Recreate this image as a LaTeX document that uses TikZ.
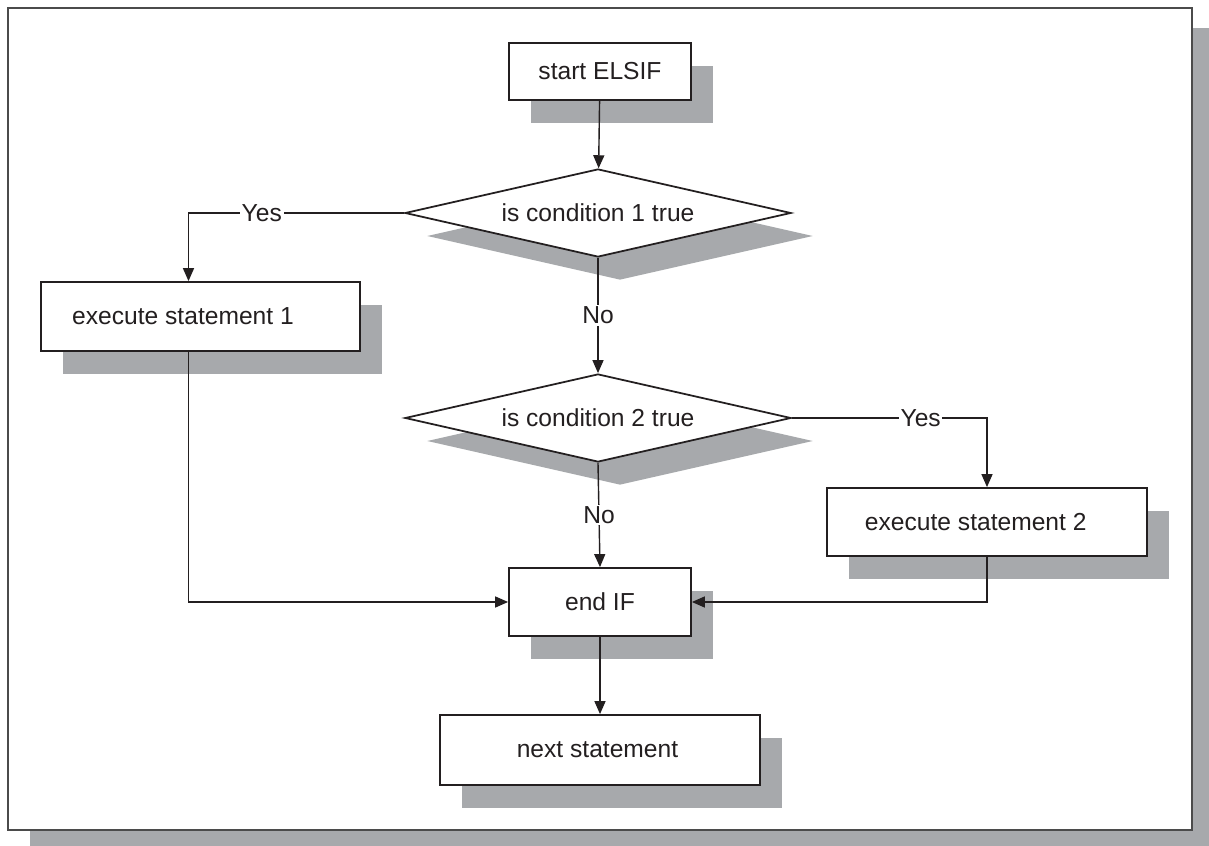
\documentclass[tikz,border=0pt]{standalone}
\usepackage{fontspec}
\setmainfont{Liberation Sans}
\usepackage{tikz}
\usetikzlibrary{shapes.geometric}
\usetikzlibrary{arrows.meta}
\usetikzlibrary{shadows}
\usetikzlibrary{calc}

\definecolor{shadowgray}{RGB}{167,169,172}
\definecolor{framegray}{RGB}{75,75,75}
\definecolor{inkblack}{RGB}{35,31,32}

\tikzset{
	greyshadow/.style = {drop shadow = {shadow xshift = 0.44cm, shadow yshift = -0.46cm, fill = shadowgray, opacity = 1}},
	stepbox/.style = {rectangle, draw = inkblack, line width = 1pt, fill = white, greyshadow},
	decision/.style = {diamond, draw = inkblack, line width = 1pt, fill = white, greyshadow, aspect = 4.4, inner sep = 0pt, minimum width = 7.72cm, minimum height = 1.76cm},
	answer/.style = {fill = white, inner sep = 1pt}
}

\begin{document}
\begin{tikzpicture}[x = 0.2mm, y = -0.2mm, every node/.style = {font = \fontsize{14}{16}\selectfont, text = inkblack}]
		\useasboundingbox (0, 0) rectangle (1209, 846);
		
		\draw [framegray, line width = 1.2pt, fill = white, drop shadow = {shadow xshift = 0.44cm, shadow yshift = -0.40cm, fill = shadowgray, opacity = 1}]
		(8, 8) rectangle (1192, 830);
		
		\node (start) [stepbox, minimum width = 3.64cm, minimum height = 1.14cm] at (600, 71.5) {start ELSIF};
		\node (cond1) [decision] at (598, 213) {is condition 1 true};
		\node (exec1) [stepbox, minimum width = 6.38cm, minimum height = 1.38cm] at (200.5, 316.5) {execute statement 1\kern 0.7cm};
		\node (cond2) [decision] at (598, 418) {is condition 2 true};
		\node (exec2) [stepbox, minimum width = 6.4cm, minimum height = 1.36cm] at (987, 522) {execute statement 2\kern 0.45cm};
		\node (endif) [stepbox, minimum width = 3.64cm, minimum height = 1.36cm] at (600, 602) {end IF};
		\node (next) [stepbox, minimum width = 6.4cm, minimum height = 1.4cm] at (600, 750) {next statement\kern 0.1cm};
		
		\begin{scope}[>={Triangle[length = 2.6mm, width = 2.2mm]}, every path/.style = {draw = inkblack, line width = 0.8pt}]
		\draw [->] (start) -- (cond1);
		\draw [->] (cond1.west) -| node [answer, pos = 0.33] {Yes} ($(exec1.north) + (-12, 0)$);
		\draw [->] (cond1.south) -- node [answer] {No} (cond2.north);
		\draw [->] (cond2.east) -| node [answer, pos = 0.33] {Yes} (exec2.north);
		\draw [->] (cond2.south) -- node [answer] {No} (endif.north);
		\draw [->] ($(exec1.south) + (-12, 0)$) |- (endif.west);
		\draw [->] (exec2.south) |- (endif.east);
		\draw [->] (endif) -- (next);
		\end{scope}
		
\end{tikzpicture}
\end{document}
